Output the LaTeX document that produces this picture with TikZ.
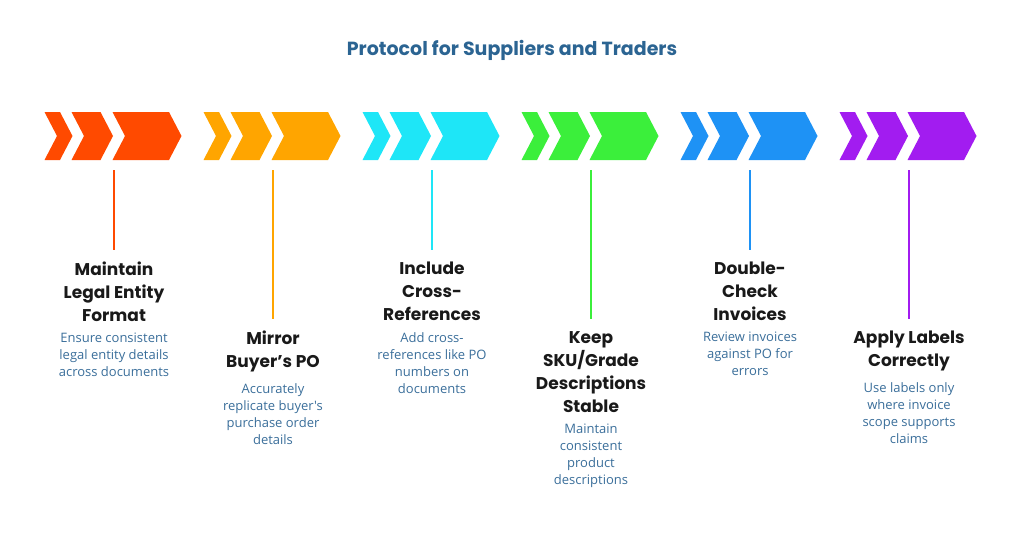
\documentclass[tikz,border=0pt]{standalone}
\usepackage{fontspec}
\setmainfont{Poppins}
\newfontfamily\descfont{Open Sans}
\usetikzlibrary{positioning}
\definecolor{cRed}{HTML}{FF4A00}
\definecolor{cOrange}{HTML}{FFA500}
\definecolor{cCyan}{HTML}{1EE6F7}
\definecolor{cGreen}{HTML}{3BEF3B}
\definecolor{cBlue}{HTML}{1E92F5}
\definecolor{cPurple}{HTML}{A21CF0}
\definecolor{headblue}{HTML}{2B6492}
\definecolor{descblue}{HTML}{3A6E9A}
\newcommand{\chev}[3]{% x, width, colour
  \fill[#3] (#1,112) -- ++(#2,0) -- ++(12.5,24) -- ++(-12.5,24) -- (#1,160) -- ++(12.5,-24) -- cycle;}
\begin{document}
\begin{tikzpicture}[x=1pt,y=-1pt,
    title/.style={font=\fontsize{17}{23}\selectfont\bfseries, text=black!90, align=center, inner sep=0pt, anchor=north},
    desc/.style={font=\descfont\fontsize{13}{17}\selectfont, text=descblue, align=center, inner sep=0pt, anchor=north},
    stem/.style={line width=1.3pt}]
    \useasboundingbox (0,0) rectangle (1024,546);
    \node[font=\fontsize{19}{23}\selectfont\bfseries, text=headblue] (head) at (512,50) {Protocol for Suppliers and Traders};

    % arrow groups
    \foreach \c [count=\i from 0] in {cRed,cOrange,cCyan,cGreen,cBlue,cPurple} {
      \pgfmathsetmacro{\gx}{44.5+159*\i}
      \chev{\gx}{15.5}{\c}
      \chev{\gx+27}{29}{\c}
      \chev{\gx+68}{56.5}{\c}
      \coordinate (top\i) at (\gx+69.5,170);
    }

    % steps
    \node[title] (t0) at (114,262) {Maintain\\Legal Entity\\Format};
    \node[desc, below=11pt of t0] (d0) {Ensure consistent\\legal entity details\\across documents};
    \node[title] (t1) at (273,331) {Mirror\\Buyer's PO};
    \node[desc, below=11pt of t1] (d1) {Accurately\\replicate buyer's\\purchase order\\details};
    \node[title] (t2) at (432,262) {Include\\Cross-\\References};
    \node[desc, below=11pt of t2] (d2) {Add cross-\\references like PO\\numbers on\\documents};
    \node[title] (t3) at (591,331) {Keep\\SKU/Grade\\Descriptions\\Stable};
    \node[desc, below=11pt of t3] (d3) {Maintain\\consistent\\product\\descriptions};
    \node[title] (t4) at (750,262) {Double-\\Check\\Invoices};
    \node[desc, below=11pt of t4] (d4) {Review invoices\\against PO for\\errors};
    \node[title] (t5) at (909,331) {Apply Labels\\Correctly};
    \node[desc, below=11pt of t5] (d5) {Use labels only\\where invoice\\scope supports\\claims};

    % stems
    \foreach \c [count=\i from 0] in {cRed,cOrange,cCyan,cGreen,cBlue,cPurple}
      \draw[stem, \c] (top\i) -- ([yshift=12pt]t\i.north);
\end{tikzpicture}
\end{document}
